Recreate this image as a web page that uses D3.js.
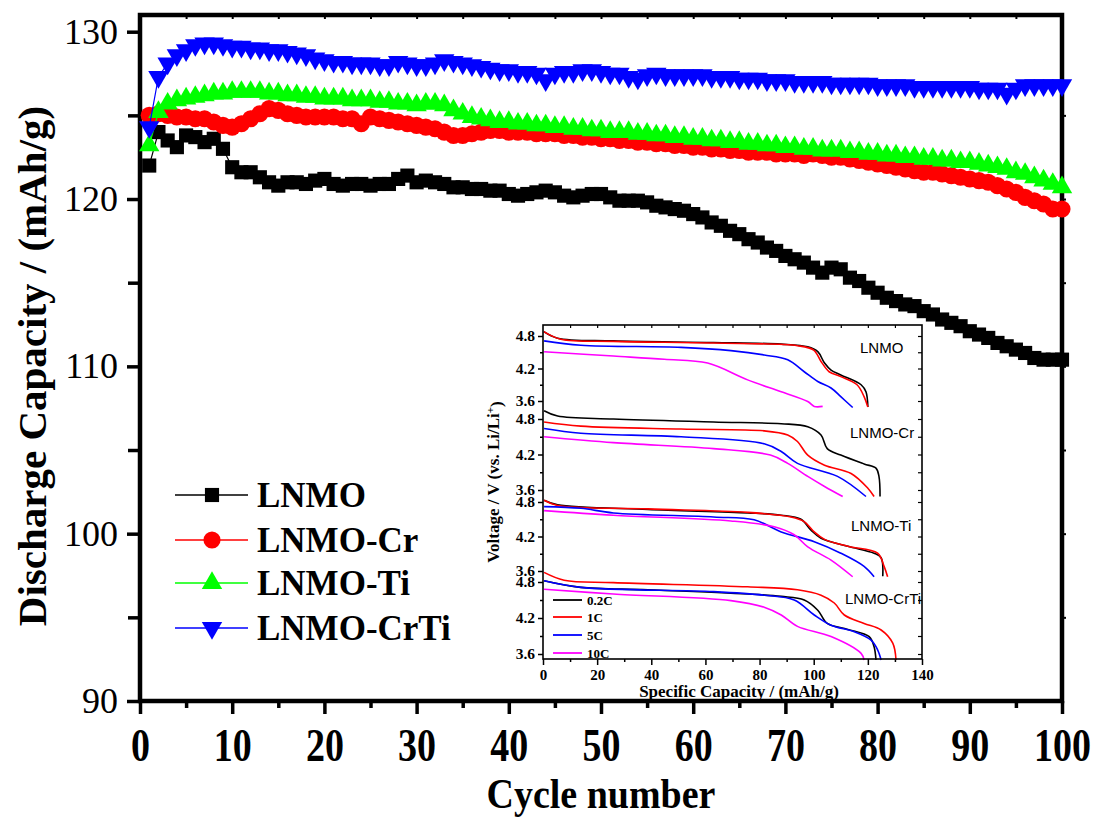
<!DOCTYPE html>
<html lang="en">
<head>
<meta charset="utf-8">
<title>Discharge Capacity vs Cycle number</title>
<script src="https://d3js.org/d3.v7.min.js"></script>
<style>
  body { margin: 0; background: #fff; }
  svg { display: block; }
  text { font-family: "Liberation Serif", "Times New Roman", serif; fill: #000; }
</style>
</head>
<body>
<div id="graph"></div>
<script>
// ---- main chart data ----
var cycles = d3.range(1, 101);
var seriesNames = ["LNMO", "LNMO-Cr", "LNMO-Ti", "LNMO-CrTi"];
var seriesColors = ["#000000", "#ff0000", "#00ff00", "#0000ff"];
var xTicks = [0, 10, 20, 30, 40, 50, 60, 70, 80, 90, 100];
var yTicks = [90, 100, 110, 120, 130];

var lnmo = [122.0,124.0,123.5,123.1,123.8,123.7,123.4,123.6,123.0,121.9,
  121.6,121.6,121.3,121.0,120.8,121.0,121.0,120.9,121.1,121.2,
  120.9,120.8,120.9,120.9,120.8,120.9,120.9,121.2,121.4,121.0,
  121.1,121.0,120.9,120.7,120.7,120.6,120.6,120.5,120.5,120.3,
  120.2,120.3,120.4,120.5,120.4,120.2,120.1,120.2,120.3,120.3,
  120.1,119.9,119.9,119.9,119.8,119.6,119.5,119.4,119.3,119.1,
  118.9,118.6,118.4,118.1,117.9,117.6,117.4,117.1,116.9,116.6,
  116.4,116.2,115.9,115.6,115.9,115.8,115.3,115.1,114.7,114.4,
  114.1,113.9,113.7,113.6,113.3,113.1,112.8,112.6,112.4,112.1,
  111.9,111.7,111.4,111.2,111.0,110.8,110.5,110.4,110.4,110.4];

var lnmoCr = [125.0,125.1,125.0,124.9,124.9,124.8,124.8,124.6,124.4,124.3,
  124.5,124.8,125.1,125.4,125.3,125.1,125.0,124.9,124.9,124.9,
  124.9,124.8,124.8,124.5,124.9,124.8,124.7,124.6,124.5,124.4,
  124.3,124.2,124.0,123.8,123.8,123.9,124.0,124.1,124.1,124.0,
  124.0,124.0,123.9,123.9,123.9,123.8,123.8,123.7,123.7,123.6,
  123.6,123.5,123.5,123.4,123.4,123.3,123.3,123.2,123.2,123.1,
  123.1,123.0,123.0,122.9,122.9,122.8,122.8,122.8,122.7,122.7,
  122.7,122.6,122.7,122.6,122.5,122.5,122.4,122.3,122.2,122.1,
  122.0,121.9,121.8,121.7,121.6,121.6,121.5,121.4,121.3,121.2,
  121.1,121.0,120.8,120.6,120.4,120.1,119.9,119.7,119.4,119.4];

var lnmoTi = [123.2,125.2,125.7,125.9,126.0,126.1,126.2,126.3,126.3,126.4,
  126.4,126.4,126.4,126.3,126.3,126.2,126.2,126.1,126.1,126.0,
  126.0,126.0,125.9,125.9,125.9,125.8,125.8,125.7,125.7,125.6,
  125.7,125.7,125.6,125.3,125.1,124.9,124.8,124.7,124.6,124.6,
  124.5,124.5,124.4,124.4,124.3,124.3,124.2,124.2,124.1,124.1,
  124.0,124.0,124.0,123.9,123.9,123.8,123.8,123.7,123.7,123.6,
  123.6,123.5,123.5,123.4,123.4,123.3,123.3,123.2,123.2,123.1,
  123.1,123.0,123.0,122.9,122.9,122.9,122.8,122.8,122.7,122.7,
  122.6,122.6,122.5,122.5,122.4,122.4,122.3,122.3,122.2,122.2,
  122.1,122.0,121.9,121.8,121.6,121.5,121.3,121.1,120.9,120.7];

var lnmoCrTi = [124.3,127.3,128.1,128.6,128.9,129.2,129.3,129.3,129.2,129.1,
  129.1,129.0,129.0,128.9,128.9,128.8,128.7,128.6,128.4,128.3,
  128.2,128.2,128.1,128.1,128.1,128.0,128.0,128.2,128.1,128.0,
  128.0,128.1,128.3,128.2,128.1,128.0,127.9,127.8,127.7,127.7,
  127.6,127.6,127.5,127.1,127.5,127.6,127.6,127.7,127.7,127.6,
  127.5,127.5,127.3,127.2,127.4,127.5,127.4,127.4,127.4,127.4,
  127.4,127.3,127.3,127.3,127.2,127.2,127.2,127.1,127.1,127.1,
  127.0,127.0,127.0,127.0,126.9,126.9,126.9,126.9,126.9,126.8,
  126.8,126.8,126.8,126.7,126.7,126.7,126.7,126.7,126.7,126.7,
  126.6,126.6,126.6,126.3,126.6,126.8,126.8,126.8,126.8,126.8];

// ---- inset data: discharge curves [capacity, voltage] ----
var insetXTicks = [0, 20, 40, 60, 80, 100, 120, 140];
var voltTicks = [4.8, 4.2, 3.6];
var panelNames = ["LNMO", "LNMO-Cr", "LNMO-Ti", "LNMO-CrTi"];
var rateNames = ["0.2C", "1C", "5C", "10C"];
var rateColors = ["#000000", "#ff0000", "#0000ff", "#ff00ff"];

var lnmoCurves = [
  [[0.3,4.88],[5.4,4.76],[26,4.71],[63,4.68],[88,4.65],[97.8,4.60],[101.5,4.51],[104,4.30],[106.4,4.17],[110,4.08],[117.5,3.90],[119.3,3.77],[120,3.49]],
  [[0.3,4.88],[6.6,4.74],[26,4.70],[63,4.67],[94,4.62],[100,4.54],[102.7,4.33],[105.7,4.14],[110,4.05],[116,3.90],[118.6,3.68],[120,3.49]],
  [[0.4,4.71],[14,4.63],[51,4.59],[69.4,4.53],[81.7,4.45],[90.4,4.36],[96.5,4.14],[101.5,3.96],[106.4,3.84],[110,3.68],[114.4,3.48]],
  [[0.4,4.51],[26,4.43],[44.8,4.37],[60.8,4.30],[75.6,3.99],[88,3.77],[97.8,3.59],[100.2,3.50],[103.3,3.50]]
];
var crCurves = [
  [[0.4,4.94],[5.4,4.85],[26,4.80],[63,4.75],[88,4.72],[97.8,4.67],[102.7,4.53],[105,4.30],[110,4.19],[118.6,4.04],[123,3.97],[124.1,3.83],[124.5,3.49]],
  [[0.4,4.75],[14,4.68],[51,4.63],[81.7,4.60],[90.4,4.53],[94,4.42],[97.8,4.19],[104,4.02],[113.8,3.88],[120,3.63],[122.3,3.49]],
  [[0.4,4.64],[14,4.56],[51,4.50],[81.7,4.38],[88,4.25],[94,4.05],[108.8,3.83],[119.3,3.49]],
  [[0.4,4.50],[26,4.40],[63,4.30],[84,4.19],[90.4,4.05],[97.8,3.83],[104,3.66],[110.7,3.49]]
];
var tiCurves = [
  [[0.4,4.83],[5.4,4.75],[38.7,4.67],[75.6,4.61],[88,4.57],[95.3,4.50],[99,4.31],[102.7,4.17],[112.6,4.03],[122.3,3.91],[124.9,3.83],[125.5,3.51]],
  [[0.4,4.83],[5.4,4.74],[38.7,4.68],[75.6,4.62],[91.6,4.54],[96.5,4.46],[100.2,4.28],[104,4.15],[112.6,4.03],[123.6,3.91],[126,3.68],[127.3,3.50]],
  [[0.4,4.72],[14,4.69],[26,4.61],[63,4.54],[78,4.49],[88,4.28],[100.2,4.11],[110,3.91],[118.6,3.68],[122.3,3.50]],
  [[0.4,4.65],[26,4.57],[69.4,4.47],[85.4,4.37],[92.8,4.23],[97.8,4.02],[106.4,3.79],[114.4,3.50]]
];
var crTiCurves = [
  [[0.4,4.82],[14,4.71],[38.7,4.67],[75.6,4.60],[88,4.56],[96.5,4.50],[101.5,4.33],[105,4.11],[112.6,4.01],[120.5,3.89],[122.3,3.72],[123,3.50]],
  [[0.4,4.96],[7.8,4.83],[26,4.79],[75.6,4.72],[94,4.67],[102.7,4.58],[107.6,4.45],[111.3,4.25],[118.6,4.11],[124.9,4.00],[129.2,3.78],[130.4,3.50]],
  [[0.4,4.82],[14,4.71],[63,4.64],[81.7,4.58],[92.8,4.50],[100.2,4.25],[106.4,4.08],[115,3.97],[121.2,3.83],[123.6,3.67],[124.9,3.50]],
  [[0.4,4.68],[26,4.60],[69.4,4.49],[81.7,4.38],[88,4.25],[94,4.06],[106.4,3.89],[117.5,3.61],[118.6,3.50]]
];

// ---- layout ----
var width = 1093, height = 819;
var plot = {left: 140, right: 1062, top: 15, bottom: 701};
var inset = {left: 543, right: 922, top: 325, bottom: 659};
// pixel rows of 4.8 V and 3.6 V for each stacked inset panel
var panelRows = [[336, 401], [419, 490], [502, 571], [582, 654]];

var svg = d3.select("#graph").append("svg")
  .attr("width", width).attr("height", height);

var x = d3.scaleLinear().domain([0, 100]).range([plot.left, plot.right]);
var y = d3.scaleLinear().domain([90, 130]).range([plot.bottom, 31.7]);

// axes of the main chart
var gx = svg.append("g").attr("transform", "translate(0," + plot.bottom + ")")
  .call(d3.axisBottom(x).tickValues(xTicks).tickSize(13).tickFormat(d3.format("d")));
gx.select(".domain").remove();
gx.selectAll("line").attr("stroke-width", 3.5);
gx.selectAll("text")
  .attr("y", null).attr("dy", null)
  .attr("transform", "translate(0,60) scale(1,1.2)")
  .style("font-size", "38px").style("font-weight", "bold")
  .style("font-family", "'Liberation Serif', serif");

var gxm = svg.append("g").attr("transform", "translate(0," + plot.bottom + ")")
  .call(d3.axisBottom(x).tickValues(d3.range(5, 100, 10)).tickSize(7).tickFormat(""));
gxm.select(".domain").remove();
gxm.selectAll("line").attr("stroke-width", 3.5);

var gy = svg.append("g").attr("transform", "translate(" + plot.left + ",0)")
  .call(d3.axisLeft(y).tickValues(yTicks).tickSize(13).tickPadding(9));
gy.select(".domain").remove();
gy.selectAll("line").attr("stroke-width", 3.5);
gy.selectAll("text").style("font-size", "36px")
  .style("font-family", "'Liberation Serif', serif");

var gym = svg.append("g").attr("transform", "translate(" + plot.left + ",0)")
  .call(d3.axisLeft(y).tickValues([95, 105, 115, 125]).tickSize(12).tickFormat(""));
gym.select(".domain").remove();
gym.selectAll("line").attr("stroke-width", 3.5);

// small ticks on the right and top edges
var gr = svg.append("g").attr("transform", "translate(" + plot.right + ",0)")
  .call(d3.axisRight(y).tickValues(d3.range(95, 130, 5)).tickSize(4).tickFormat(""));
gr.select(".domain").remove();
gr.selectAll("line").attr("stroke-width", 2);
var gt = svg.append("g").attr("transform", "translate(0," + plot.top + ")")
  .call(d3.axisBottom(x).tickValues(d3.range(5, 100, 5)).tickSize(4).tickFormat(""));
gt.select(".domain").remove();
gt.selectAll("line").attr("stroke-width", 2);

// frame
svg.append("rect")
  .attr("x", plot.left).attr("y", plot.top)
  .attr("width", plot.right - plot.left).attr("height", plot.bottom - plot.top)
  .attr("fill", "none").attr("stroke", "#000").attr("stroke-width", 4.5);

// axis titles
svg.append("text")
  .attr("transform", "translate(601,808) scale(1,1.12)")
  .attr("text-anchor", "middle")
  .style("font-size", "38px").style("font-weight", "bold")
  .text("Cycle number");
svg.append("text")
  .attr("transform", "translate(46,366) rotate(-90)")
  .attr("text-anchor", "middle")
  .style("font-size", "41px").style("font-weight", "bold")
  .text("Discharge Capacity / (mAh/g)");

// series
var allSeries = [lnmo, lnmoCr, lnmoTi, lnmoCrTi];
var symbols = [
  d3.symbol().type(d3.symbolSquare).size(200),
  d3.symbol().type(d3.symbolCircle).size(230),
  d3.symbol().type(d3.symbolTriangle).size(180),
  d3.symbol().type(d3.symbolTriangle).size(180)
];
var rotations = [0, 0, 0, 180];

var line = d3.line().x(function(d) { return x(d[0]); }).y(function(d) { return y(d[1]); });

allSeries.forEach(function(vals, i) {
  var pts = cycles.map(function(c, k) { return [c, vals[k]]; });
  var g = svg.append("g");
  g.append("path").datum(pts)
    .attr("d", line).attr("fill", "none")
    .attr("stroke", seriesColors[i]).attr("stroke-width", 1.2);
  g.selectAll("path.pt").data(pts).enter().append("path")
    .attr("class", "pt")
    .attr("d", symbols[i])
    .attr("transform", function(d) {
      return "translate(" + x(d[0]) + "," + y(d[1]) + ") rotate(" + rotations[i] + ")";
    })
    .attr("fill", seriesColors[i]);
});

// legend
var legendRows = [495, 540, 583, 628];
seriesNames.forEach(function(name, i) {
  var g = svg.append("g").attr("transform", "translate(0," + legendRows[i] + ")");
  g.append("line").attr("x1", 175).attr("x2", 248).attr("y1", 0).attr("y2", 0)
    .attr("stroke", seriesColors[i]).attr("stroke-width", 1.5);
  g.append("path").attr("d", symbols[i])
    .attr("transform", "translate(212,0) rotate(" + rotations[i] + ")")
    .attr("fill", seriesColors[i]);
  g.append("text").attr("x", 257).attr("y", 12)
    .style("font-size", "35px").style("font-weight", "bold")
    .text(name);
});

// ---- inset ----
var ix = d3.scaleLinear().domain([0, 140]).range([inset.left, inset.right]);
svg.append("rect")
  .attr("x", inset.left).attr("y", inset.top)
  .attr("width", inset.right - inset.left).attr("height", inset.bottom - inset.top)
  .attr("fill", "#fff").attr("stroke", "none");

var ixa = svg.append("g").attr("transform", "translate(0," + inset.bottom + ")")
  .call(d3.axisBottom(ix).tickValues(insetXTicks).tickSize(6).tickPadding(4));
ixa.select(".domain").remove();
ixa.selectAll("line").attr("stroke-width", 1.5);
ixa.selectAll("text").style("font-size", "15px").style("font-weight", "bold")
  .style("font-family", "'Liberation Serif', serif");
var ixm = svg.append("g").attr("transform", "translate(0," + inset.bottom + ")")
  .call(d3.axisBottom(ix).tickValues(d3.range(10, 140, 20)).tickSize(3).tickFormat(""));
ixm.select(".domain").remove();
ixm.selectAll("line").attr("stroke-width", 1.5);
var ixt = svg.append("g").attr("transform", "translate(0," + inset.top + ")")
  .call(d3.axisBottom(ix).tickValues(d3.range(10, 140, 10)).tickSize(3).tickFormat(""));
ixt.select(".domain").remove();
ixt.selectAll("line").attr("stroke-width", 1.2);

var allCurves = [lnmoCurves, crCurves, tiCurves, crTiCurves];
var panelLabelPos = [[860, 353], [850, 438], [851, 531], [845, 604]];

allCurves.forEach(function(curves, p) {
  var vy = d3.scaleLinear().domain([4.8, 3.6]).range(panelRows[p]);
  var ga = svg.append("g").attr("transform", "translate(" + inset.left + ",0)")
    .call(d3.axisLeft(vy).tickValues(voltTicks).tickSize(5).tickPadding(3).tickFormat(d3.format(".1f")));
  ga.select(".domain").remove();
  ga.selectAll("line").attr("stroke-width", 1.5);
  ga.selectAll("text").style("font-size", "15.5px").style("font-weight", "bold")
    .style("font-family", "'Liberation Serif', serif");
  var gm = svg.append("g").attr("transform", "translate(" + inset.left + ",0)")
    .call(d3.axisLeft(vy).tickValues([4.5, 3.9]).tickSize(3).tickFormat(""));
  gm.select(".domain").remove();
  gm.selectAll("line").attr("stroke-width", 1.5);
  var gR = svg.append("g").attr("transform", "translate(" + inset.right + ",0)")
    .call(d3.axisLeft(vy).tickValues([4.8, 4.5, 4.2, 3.9, 3.6]).tickSize(4).tickFormat(""));
  gR.select(".domain").remove();
  gR.selectAll("line").attr("stroke-width", 1.2);

  var vline = d3.line()
    .x(function(d) { return ix(d[0]); })
    .y(function(d) { return vy(d[1]); })
    .curve(d3.curveCatmullRom.alpha(0.5));
  curves.forEach(function(c, r) {
    svg.append("path").datum(c)
      .attr("d", vline).attr("fill", "none")
      .attr("stroke", rateColors[r]).attr("stroke-width", 1.6);
  });

  svg.append("text")
    .attr("x", panelLabelPos[p][0]).attr("y", panelLabelPos[p][1])
    .style("font-family", "'Liberation Sans', Arial, sans-serif")
    .style("font-size", "15px")
    .text(panelNames[p]);
});

svg.append("rect")
  .attr("x", inset.left).attr("y", inset.top)
  .attr("width", inset.right - inset.left).attr("height", inset.bottom - inset.top)
  .attr("fill", "none").attr("stroke", "#000").attr("stroke-width", 1.6);

// inset legend
var rateRows = [600, 617, 635, 653];
rateNames.forEach(function(name, r) {
  svg.append("line").attr("x1", 553).attr("x2", 582)
    .attr("y1", rateRows[r]).attr("y2", rateRows[r])
    .attr("stroke", rateColors[r]).attr("stroke-width", 1.8);
  svg.append("text").attr("x", 587).attr("y", rateRows[r] + 4.5)
    .style("font-size", "13px").style("font-weight", "bold")
    .text(name);
});

// inset titles
svg.append("text")
  .attr("x", 739).attr("y", 697).attr("text-anchor", "middle")
  .style("font-size", "17px").style("font-weight", "bold")
  .text("Specific Capacity / (mAh/g)");
var vt = svg.append("text")
  .attr("transform", "translate(499,482) rotate(-90)")
  .attr("text-anchor", "middle")
  .style("font-size", "17px").style("font-weight", "bold");
vt.append("tspan").text("Voltage / V (vs. Li/Li");
vt.append("tspan").attr("dy", "-0.5em").style("font-size", "11px").text("+");
vt.append("tspan").attr("dy", "0.5em").text(")");
</script>
</body>
</html>
